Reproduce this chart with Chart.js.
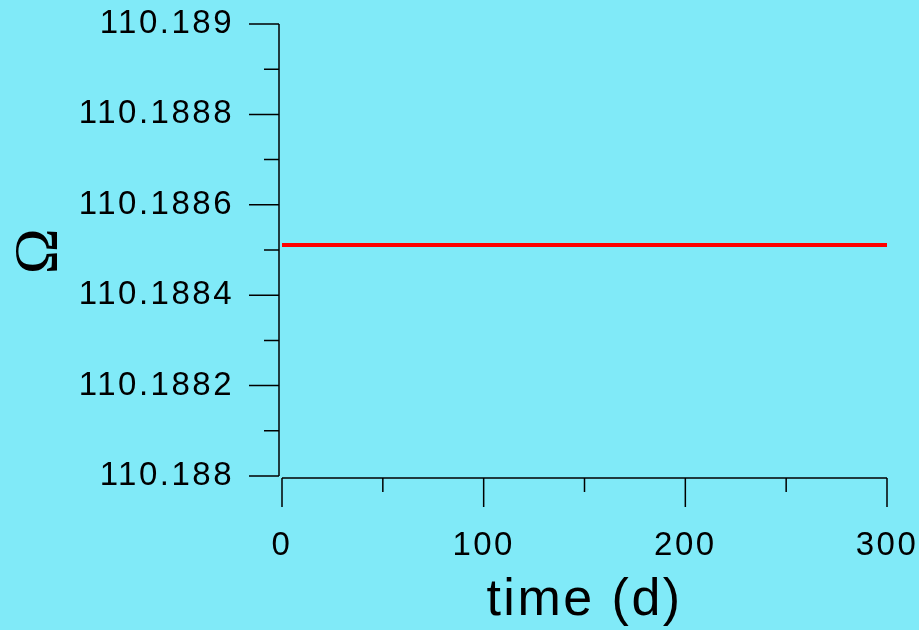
<!DOCTYPE html>
<html>
<head>
<meta charset="utf-8">
<title>Omega vs time</title>
<script src="https://cdn.jsdelivr.net/npm/chart.js@4/dist/chart.umd.min.js"></script>
<style>
  html, body { margin: 0; padding: 0; background: #80eaf8; }
  #wrap { width: 919px; height: 630px; }
  canvas { display: block; }
</style>
</head>
<body>
<div id="wrap"><canvas id="chart" width="919" height="630"></canvas></div>
<script>
// Series: time in days and the (constant) value of Omega
const days = [0, 300];
const omega = [110.188511, 110.188511];

// Axis ticks
const xMajorTicks = [0, 100, 200, 300];
const xMinorTicks = [50, 150, 250];
const yMajorTicks = [110.188, 110.1882, 110.1884, 110.1886, 110.1888, 110.189];
const yMinorTicks = [110.1881, 110.1883, 110.1885, 110.1887, 110.1889];

const BG = '#80eaf8';
const AXIS = '#000000';

// Invisible tick marks used only to push the labels away from the plot
const spacerGrid = (len) => ({
  display: true,
  drawOnChartArea: false,
  drawTicks: true,
  tickLength: len,
  color: 'rgba(0,0,0,0)'
});

// Background, wide text tracking, and the offset axes with major/minor ticks
const axesPlugin = {
  id: 'offsetAxes',
  beforeDraw(chart) {
    const ctx = chart.ctx;
    ctx.save();
    ctx.fillStyle = BG;
    ctx.fillRect(0, 0, chart.width, chart.height);
    ctx.restore();
    if ('letterSpacing' in ctx) ctx.letterSpacing = '2.5px';
  },
  afterDraw(chart) {
    const { ctx, chartArea } = chart;
    const xs = chart.scales.x, ys = chart.scales.y;
    const yAxisX = chartArea.left - 3;
    const xAxisY = chartArea.bottom + 2;
    ctx.save();
    ctx.strokeStyle = AXIS;
    ctx.lineWidth = 1.5;
    ctx.lineCap = 'butt';
    ctx.beginPath();
    // y axis
    ctx.moveTo(yAxisX, ys.getPixelForValue(yMajorTicks[yMajorTicks.length - 1]));
    ctx.lineTo(yAxisX, ys.getPixelForValue(yMajorTicks[0]));
    yMajorTicks.forEach(v => {
      const p = ys.getPixelForValue(v);
      ctx.moveTo(yAxisX - 30, p);
      ctx.lineTo(yAxisX, p);
    });
    yMinorTicks.forEach(v => {
      const p = ys.getPixelForValue(v);
      ctx.moveTo(yAxisX - 15, p);
      ctx.lineTo(yAxisX, p);
    });
    // x axis
    ctx.moveTo(xs.getPixelForValue(xMajorTicks[0]), xAxisY);
    ctx.lineTo(xs.getPixelForValue(xMajorTicks[xMajorTicks.length - 1]), xAxisY);
    xMajorTicks.forEach(v => {
      const p = xs.getPixelForValue(v);
      ctx.moveTo(p, xAxisY);
      ctx.lineTo(p, xAxisY + 29);
    });
    xMinorTicks.forEach(v => {
      const p = xs.getPixelForValue(v);
      ctx.moveTo(p, xAxisY);
      ctx.lineTo(p, xAxisY + 14);
    });
    ctx.stroke();
    ctx.restore();
  }
};

Chart.defaults.color = '#000';
Chart.defaults.font.family = "'Liberation Sans', Arial, sans-serif";

new Chart(document.getElementById('chart'), {
  type: 'line',
  data: {
    datasets: [{
      data: days.map((d, i) => ({ x: d, y: omega[i] })),
      borderColor: '#ff0000',
      borderWidth: 4,
      pointRadius: 0,
      fill: false,
      tension: 0
    }]
  },
  options: {
    responsive: false,
    animation: false,
    devicePixelRatio: 1,
    layout: { padding: { top: 24, right: 32, left: 0, bottom: 0 } },
    plugins: { legend: { display: false }, tooltip: { enabled: false } },
    scales: {
      x: {
        type: 'linear',
        min: 0,
        max: 300,
        grid: spacerGrid(50),
        border: { display: false },
        afterBuildTicks: s => { s.ticks = xMajorTicks.map(v => ({ value: v })); },
        afterFit: s => { s.height = 154; },
        ticks: {
          padding: 0,
          maxRotation: 0,
          font: { size: 33 },
          callback: v => String(v)
        },
        title: {
          display: true,
          text: 'time (d)',
          font: { size: 52, lineHeight: 1.12 },
          padding: 0
        }
      },
      y: {
        type: 'linear',
        min: 110.188,
        max: 110.189,
        grid: spacerGrid(48),
        border: { display: false },
        afterBuildTicks: s => { s.ticks = yMajorTicks.map(v => ({ value: v })); },
        afterFit: s => { s.width = 282; },
        ticks: {
          padding: 0,
          font: { size: 33 },
          callback: v => String(v)
        },
        title: {
          display: true,
          text: 'Ω',
          font: { family: "'Liberation Serif', 'Times New Roman', serif", size: 62, lineHeight: 1.2 },
          padding: { top: 3, bottom: 0 }
        }
      }
    }
  },
  plugins: [axesPlugin]
});
</script>
</body>
</html>
